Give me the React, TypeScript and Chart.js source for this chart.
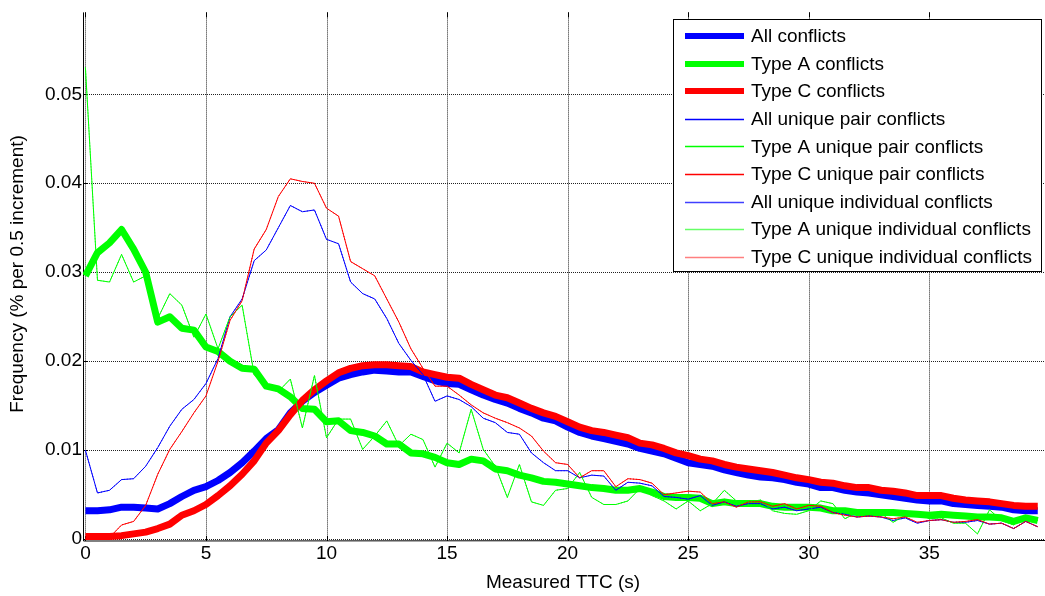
import { useEffect, useRef } from "react";
import { Chart, registerables } from "chart.js";

Chart.register(...registerables);

// Measured TTC (s), 0.5 s bins
const ttc = [
  0, 0.5, 1, 1.5, 2, 2.5, 3, 3.5, 4, 4.5,
  5, 5.5, 6, 6.5, 7, 7.5, 8, 8.5, 9, 9.5,
  10, 10.5, 11, 11.5, 12, 12.5, 13, 13.5, 14, 14.5,
  15, 15.5, 16, 16.5, 17, 17.5, 18, 18.5, 19, 19.5,
  20, 20.5, 21, 21.5, 22, 22.5, 23, 23.5, 24, 24.5,
  25, 25.5, 26, 26.5, 27, 27.5, 28, 28.5, 29, 29.5,
  30, 30.5, 31, 31.5, 32, 32.5, 33, 33.5, 34, 34.5,
  35, 35.5, 36, 36.5, 37, 37.5, 38, 38.5, 39, 39.5,
];

const allConflicts = [
  0.0032, 0.0032, 0.0033, 0.0036, 0.0036, 0.0035, 0.0034, 0.004, 0.0048, 0.0055,
  0.0059, 0.0066, 0.0075, 0.0086, 0.0099, 0.0113, 0.0123, 0.0142, 0.0155, 0.0165,
  0.0173, 0.0181, 0.0185, 0.0188, 0.019, 0.0189, 0.0188, 0.0188, 0.0183, 0.0178,
  0.0175, 0.0174, 0.0168, 0.0162, 0.0157, 0.0153, 0.0147, 0.0142, 0.0136, 0.0133,
  0.0126, 0.012, 0.0116, 0.0113, 0.011, 0.0107, 0.0102, 0.0099, 0.0096, 0.0091,
  0.0086, 0.0084, 0.0082, 0.0078, 0.0075, 0.0072, 0.007, 0.0069, 0.0067, 0.0064,
  0.0062, 0.0058, 0.0058, 0.0055, 0.0053, 0.0052, 0.005, 0.0048, 0.0046, 0.0044,
  0.0043, 0.0043, 0.004, 0.0039, 0.0038, 0.0037, 0.0036, 0.0033, 0.0032, 0.0032,
];

const typeAConflicts = [
  0.0296, 0.0322, 0.0333, 0.0348, 0.0326, 0.03, 0.0244, 0.025, 0.0237, 0.0235,
  0.0216, 0.0211, 0.02, 0.0192, 0.0191, 0.0172, 0.0169, 0.016, 0.0147, 0.0146,
  0.0132, 0.0133, 0.0122, 0.012, 0.0116, 0.0107, 0.0107, 0.0097, 0.0096, 0.0092,
  0.0086, 0.0084, 0.009, 0.0088, 0.0079, 0.0077, 0.0072, 0.0069, 0.0065, 0.0064,
  0.0062, 0.006, 0.0058, 0.0057, 0.0055, 0.0055, 0.0057, 0.0053, 0.0048, 0.0047,
  0.0047, 0.0046, 0.004, 0.0042, 0.004, 0.004, 0.004, 0.0037, 0.0036, 0.0036,
  0.0036, 0.0035, 0.0032, 0.0032, 0.003, 0.003, 0.003, 0.003, 0.0029, 0.0028,
  0.0027, 0.0028, 0.0027, 0.0026, 0.0025, 0.0025, 0.0024, 0.002, 0.0024, 0.0021,
];

const typeCConflicts = [
  0.0003, 0.0003, 0.0003, 0.0004, 0.0006, 0.0008, 0.0012, 0.0017, 0.0027, 0.0032,
  0.0039, 0.0049, 0.006, 0.0073, 0.0088, 0.0108, 0.0122, 0.014, 0.0156, 0.0168,
  0.0178, 0.0187, 0.0192, 0.0195, 0.0196, 0.0196, 0.0195, 0.0194, 0.0188, 0.0185,
  0.0182, 0.0181, 0.0174, 0.0168, 0.0162, 0.0159, 0.0153, 0.0147, 0.0142, 0.0138,
  0.0132, 0.0126, 0.0122, 0.012, 0.0117, 0.0114, 0.0108, 0.0106, 0.0102, 0.0097,
  0.0094, 0.009, 0.0088, 0.0084, 0.0081, 0.0079, 0.0077, 0.0075, 0.0072, 0.0069,
  0.0067, 0.0064, 0.0063, 0.006, 0.0058, 0.0058, 0.0055, 0.0054, 0.0052, 0.0049,
  0.0049, 0.0049, 0.0046, 0.0044, 0.0043, 0.0042, 0.004, 0.0038, 0.0037, 0.0037,
];

const allUniquePair = [
  0.01, 0.0052, 0.0055, 0.0067, 0.0068, 0.0082, 0.0103, 0.0127, 0.0146, 0.0157,
  0.0175, 0.0203, 0.025, 0.027, 0.0313, 0.0325, 0.035, 0.0375, 0.0368, 0.037,
  0.0337, 0.0332, 0.0289, 0.0276, 0.027, 0.0248, 0.022, 0.0201, 0.0185, 0.0155,
  0.0161, 0.0157, 0.0149, 0.0136, 0.0131, 0.012, 0.0118, 0.0097, 0.0086, 0.0077,
  0.0077, 0.0069, 0.0072, 0.0071, 0.0055, 0.0064, 0.0063, 0.006, 0.0048, 0.0047,
  0.0045, 0.0049, 0.0038, 0.0042, 0.0037, 0.004, 0.004, 0.0034, 0.0036, 0.0032,
  0.0034, 0.0036, 0.003, 0.0028, 0.0025, 0.0026, 0.0025, 0.0021, 0.0024, 0.0018,
  0.0021, 0.0022, 0.0019, 0.0019, 0.0021, 0.0017, 0.0018, 0.0012, 0.002, 0.0014,
];

const typeAUniquePair = [
  0.053, 0.0291, 0.0289, 0.032, 0.0289, 0.0296, 0.0248, 0.0276, 0.0263, 0.0227,
  0.0253, 0.0214, 0.025, 0.0263, 0.0185, 0.017, 0.0166, 0.018, 0.0125, 0.0184,
  0.0114, 0.0135, 0.0135, 0.0101, 0.0116, 0.0133, 0.0105, 0.0118, 0.0112, 0.0081,
  0.0108, 0.0097, 0.0146, 0.0101, 0.0082, 0.0047, 0.0084, 0.0042, 0.0038, 0.0055,
  0.0057, 0.0075, 0.0047, 0.0039, 0.0039, 0.0043, 0.0057, 0.0049, 0.0043, 0.0034,
  0.0043, 0.0032, 0.004, 0.0055, 0.0043, 0.0042, 0.0044, 0.0032, 0.0029, 0.0028,
  0.0032, 0.0043, 0.004, 0.0023, 0.003, 0.0029, 0.0029, 0.0019, 0.0027, 0.003,
  0.0023, 0.0024, 0.0018, 0.0018, 0.0006, 0.0033, 0.0021, 0.0016, 0.0026, 0.0021,
];

const typeCUniquePair = [
  0.0, 0.0, 0.0002, 0.0016, 0.002, 0.0038, 0.0073, 0.0101, 0.0121, 0.0142,
  0.0161, 0.02, 0.0246, 0.0268, 0.0326, 0.0348, 0.0385, 0.0405, 0.0402, 0.04,
  0.0372, 0.0363, 0.0312, 0.0304, 0.0296, 0.027, 0.0244, 0.0214, 0.0192, 0.0172,
  0.0172, 0.0162, 0.0151, 0.0142, 0.0136, 0.0131, 0.0125, 0.0116, 0.0099, 0.0086,
  0.0084, 0.0069, 0.0077, 0.0077, 0.0059, 0.0068, 0.0067, 0.0063, 0.005, 0.0052,
  0.0054, 0.0053, 0.004, 0.0042, 0.0036, 0.0042, 0.0042, 0.0037, 0.004, 0.0034,
  0.0038, 0.0037, 0.003, 0.0027, 0.0025, 0.0026, 0.0025, 0.0023, 0.0025, 0.0019,
  0.0021, 0.0022, 0.0019, 0.002, 0.0022, 0.0017, 0.0018, 0.0012, 0.002, 0.0014,
];

// unique individual conflicts coincide with the unique pair curves in the picture
const allUniqueIndividual = allUniquePair;
const typeAUniqueIndividual = typeAUniquePair;
const typeCUniqueIndividual = typeCUniquePair;

const xTicks = [0, 5, 10, 15, 20, 25, 30, 35];
const yTicks = [0, 0.01, 0.02, 0.03, 0.04, 0.05];
const yTickLabels = ["0", "0.01", "0.02", "0.03", "0.04", "0.05"];

const seriesNames = [
  "All conflicts",
  "Type A conflicts",
  "Type C conflicts",
  "All unique pair conflicts",
  "Type A unique pair conflicts",
  "Type C unique pair conflicts",
  "All unique individual conflicts",
  "Type A unique individual conflicts",
  "Type C unique individual conflicts",
];
const seriesValues = [
  allConflicts,
  typeAConflicts,
  typeCConflicts,
  allUniquePair,
  typeAUniquePair,
  typeCUniquePair,
  allUniqueIndividual,
  typeAUniqueIndividual,
  typeCUniqueIndividual,
];
const seriesColors = ["#0000ff", "#00ff00", "#ff0000", "#0000ff", "#00ff00", "#ff0000", "#0000ff", "#00ff00", "#ff0000"];
const legendAlpha = [1, 1, 1, 1, 1, 1, 0.75, 0.6, 0.5];
const seriesWidths = [7, 7, 7, 1, 1, 1, 1, 1, 1];
const seriesDash = [[], [], [], [], [], [], [1, 2], [1, 2], [1, 2]];

const FONT = '"Liberation Sans", Arial, sans-serif';

const matlabPlugin = {
  id: "matlabAxes",
  beforeDatasetsDraw(chart: any) {
    const { ctx, chartArea: a, scales } = chart;
    const x = scales.x;
    const y = scales.y;
    ctx.save();
    ctx.lineWidth = 1;
    ctx.strokeStyle = "#222";
    ctx.setLineDash([1, 1]);
    for (const v of xTicks) {
      const px = Math.round(x.getPixelForValue(v)) + 0.5;
      ctx.beginPath();
      ctx.moveTo(px, a.top);
      ctx.lineTo(px, a.bottom);
      ctx.stroke();
    }
    for (const v of yTicks) {
      const py = Math.round(y.getPixelForValue(v)) + 0.5;
      ctx.beginPath();
      ctx.moveTo(a.left, py);
      ctx.lineTo(a.right, py);
      ctx.stroke();
    }
    ctx.setLineDash([]);
    ctx.strokeStyle = "#000";
    ctx.beginPath();
    ctx.moveTo(a.left + 0.5, a.top);
    ctx.lineTo(a.left + 0.5, a.bottom);
    ctx.lineTo(a.right, a.bottom - 0.5);
    ctx.stroke();
    const tl = 5;
    for (const v of xTicks) {
      const px = Math.round(x.getPixelForValue(v)) + 0.5;
      ctx.beginPath();
      ctx.moveTo(px, a.bottom);
      ctx.lineTo(px, a.bottom - tl);
      ctx.moveTo(px, a.top);
      ctx.lineTo(px, a.top + tl);
      ctx.stroke();
    }
    for (const v of yTicks) {
      const py = Math.round(y.getPixelForValue(v)) + 0.5;
      ctx.beginPath();
      ctx.moveTo(a.left, py);
      ctx.lineTo(a.left + tl, py);
      ctx.stroke();
    }
    ctx.restore();
  },
  afterDraw(chart: any) {
    const { ctx } = chart;
    ctx.save();
    ctx.fillStyle = "#000";
    ctx.font = `19px ${FONT}`;
    ctx.textAlign = "center";
    ctx.textBaseline = "middle";
    ctx.fillText("Measured TTC (s)", 563, 583);
    ctx.save();
    ctx.translate(18, 274);
    ctx.rotate(-Math.PI / 2);
    ctx.fillText("Frequency (% per 0.5 increment)", 0, 0);
    ctx.restore();

    const bx = 673.5, by = 19.5, bw = 368, bh = 252;
    ctx.fillStyle = "#fff";
    ctx.fillRect(bx, by, bw, bh);
    ctx.strokeStyle = "#000";
    ctx.lineWidth = 1;
    ctx.strokeRect(bx, by, bw, bh);
    ctx.font = `19px ${FONT}`;
    ctx.textAlign = "left";
    ctx.textBaseline = "middle";
    seriesNames.forEach((name, i) => {
      const yy = 36 + i * 27.6;
      const w = seriesWidths[i] > 1 ? 6 : 1.3;
      const ly = Math.round(yy) + (w < 2 ? 0.5 : 0);
      ctx.save();
      ctx.globalAlpha = legendAlpha[i];
      ctx.strokeStyle = seriesColors[i];
      ctx.lineWidth = w;
      ctx.beginPath();
      ctx.moveTo(685, ly);
      ctx.lineTo(744, ly);
      ctx.stroke();
      ctx.restore();
      ctx.fillStyle = "#000";
      ctx.fillText(name, 751, yy + 1);
    });
    ctx.restore();
  },
};

export default function App() {
  const ref = useRef<HTMLCanvasElement | null>(null);
  useEffect(() => {
    document.body.style.margin = "0";
    const canvas = ref.current;
    if (!canvas) return;
    const datasets = seriesNames.map((name, i) => ({
      label: name,
      data: ttc.map((t, k) => ({ x: t, y: seriesValues[i][k] })),
      borderColor: seriesColors[i],
      backgroundColor: seriesColors[i],
      borderWidth: seriesWidths[i],
      borderDash: seriesDash[i],
      pointRadius: 0,
      tension: 0,
      fill: false,
      borderJoinStyle: "round" as const,
      order: seriesNames.length - i,
    }));
    const chart = new Chart(canvas, {
      type: "line",
      data: { datasets },
      plugins: [matlabPlugin],
      options: {
        animation: false,
        responsive: true,
        maintainAspectRatio: false,
        layout: { padding: { top: 9, right: 0, left: 0, bottom: 0 } },
        plugins: { legend: { display: false }, tooltip: { enabled: false } },
        scales: {
          x: {
            type: "linear",
            min: -0.1,
            max: 39.8,
            afterBuildTicks: (s: any) => {
              s.ticks = xTicks.map((v) => ({ value: v }));
            },
            afterFit: (s: any) => {
              s.height = 55;
            },
            grid: { display: false, drawTicks: false },
            border: { display: false },
            ticks: {
              color: "#000",
              font: { family: FONT, size: 19 },
              padding: 1,
              maxRotation: 0,
              autoSkip: false,
            },
          },
          y: {
            type: "linear",
            min: -0.0002,
            max: 0.0592,
            afterBuildTicks: (s: any) => {
              s.ticks = yTicks.map((v) => ({ value: v }));
            },
            afterFit: (s: any) => {
              s.width = 83;
            },
            grid: { display: false, drawTicks: false },
            border: { display: false },
            ticks: {
              color: "#000",
              font: { family: FONT, size: 19 },
              padding: 1,
              autoSkip: false,
              callback: (v: any) => {
                const idx = yTicks.indexOf(Number(v));
                return idx >= 0 ? yTickLabels[idx] : "";
              },
            },
          },
        },
      },
    });
    return () => chart.destroy();
  }, []);
  return (
    <div style={{ position: "relative", width: 1045, height: 596 }}>
      <canvas ref={ref} />
    </div>
  );
}
